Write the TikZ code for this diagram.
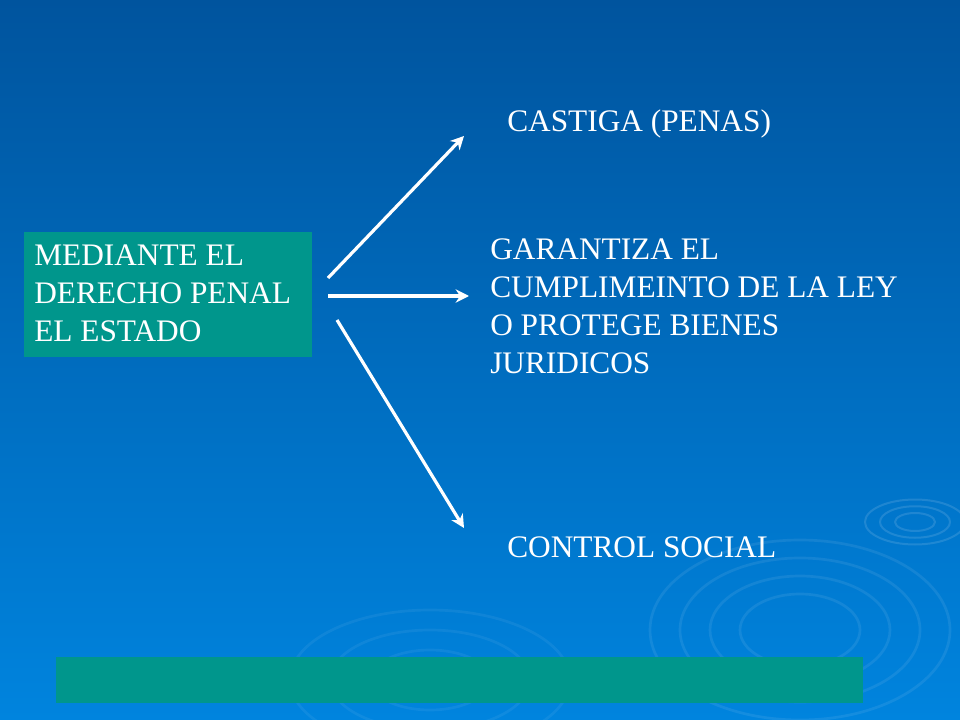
\documentclass[tikz,border=0pt]{standalone}
\usepackage{fontspec}
\setmainfont{Liberation Serif}
\usetikzlibrary{positioning,arrows.meta}
\definecolor{bgtop}{RGB}{0,84,158}
\definecolor{bgbot}{RGB}{0,132,222}
\definecolor{tealbox}{RGB}{0,150,140}
\tikzstyle{txt} = [text=white, font=\fontsize{23.5}{28.5}\selectfont, align=left, inner sep=0pt]
\tikzstyle{arrow} = [white, line width=2.4pt, -{Stealth[length=10pt,width=10pt]}]
\begin{document}
\begin{tikzpicture}[x=0.75pt,y=-0.75pt]
    \shade[top color=bgtop, bottom color=bgbot] (0,0) rectangle (960,720);
    \useasboundingbox (0,0) rectangle (960,720);
    % faint ripples
    \foreach \r in {20,35,50} \draw[white, opacity=0.12, line width=1.5pt] (915,522) ellipse ({\r} and {\r*0.45});
    \foreach \r in {60,90,120,150} \draw[white, opacity=0.08, line width=2pt] (800,630) ellipse ({\r} and {\r*0.6});
    \foreach \r in {60,100,140} \draw[white, opacity=0.06, line width=2pt] (430,680) ellipse ({\r} and {\r*0.5});
    \fill[tealbox] (24,232) rectangle (312,357);
    \fill[tealbox] (56,657) rectangle (863,703);
    \node (src) [txt, anchor=north west] at (34,245) {MEDIANTE EL\\DERECHO PENAL\\EL ESTADO};
    \node (pen) [txt, anchor=west] at (507,124) {CASTIGA (PENAS)};
    \node (gar) [txt, anchor=north west] at (490,238) {GARANTIZA EL\\CUMPLIMEINTO DE LA LEY\\O PROTEGE BIENES\\JURIDICOS};
    \node (soc) [txt, anchor=west] at (507,547) {CONTROL SOCIAL};
    \coordinate (a1) at (328,278);
    \coordinate (a2) at (328,296);
    \coordinate (a3) at (337,320);
    \coordinate (b1) at (464,136);
    \coordinate (b2) at (469,296);
    \coordinate (b3) at (464,528);
    \draw[arrow] (a1) -- (b1);
    \draw[arrow] (a2) -- (b2);
    \draw[arrow] (a3) -- (b3);
\end{tikzpicture}
\end{document}
